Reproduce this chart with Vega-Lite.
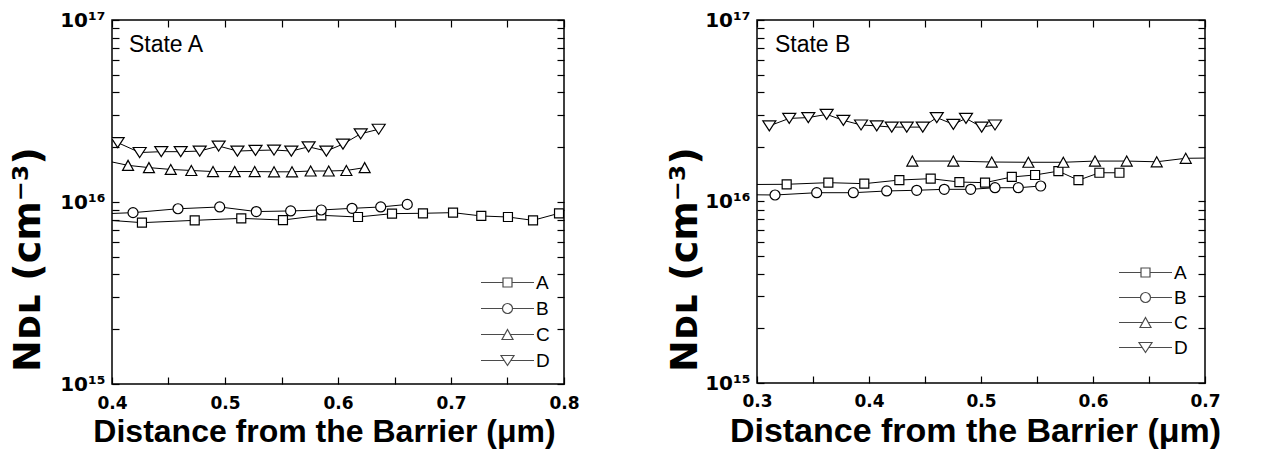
{
  "$schema": "https://vega.github.io/schema/vega-lite/v6.json",
  "background": "white",
  "padding": {"left": 8, "top": 9, "right": 5, "bottom": 5},
  "spacing": 85,
  "config": {
    "font": "Liberation Sans",
    "view": {"stroke": "black", "strokeWidth": 1.5},
    "axis": {
      "grid": false,
      "ticks": true,
      "domain": false,
      "offset": -7,
      "tickSize": 7,
      "tickColor": "black",
      "tickWidth": 1.2,
      "labelColor": "black",
      "titleColor": "black",
      "labelFont": "DejaVu Sans",
      "titleFont": "Liberation Sans",
      "labelFontWeight": "bold",
      "titleFontWeight": "bold",
      "labelFlush": false,
      "labelOverlap": false
    },
    "legend": {
      "orient": "none",
      "title": null,
      "labelFont": "Liberation Sans",
      "labelFontSize": 19,
      "labelColor": "black",
      "labelOffset": 19,
      "symbolSize": 100,
      "symbolStrokeWidth": 1.2,
      "symbolStrokeColor": "black",
      "symbolFillColor": "transparent",
      "rowPadding": 6,
      "padding": 0
    }
  },
  "datasets": {
    "left": [
      {"x": 0.39, "y": 8.0e15, "s": "A"},
      {"x": 0.4265, "y": 7.70e15, "s": "A"},
      {"x": 0.4732, "y": 7.93e15, "s": "A"},
      {"x": 0.5144, "y": 8.13e15, "s": "A"},
      {"x": 0.5513, "y": 7.96e15, "s": "A"},
      {"x": 0.5852, "y": 8.45e15, "s": "A"},
      {"x": 0.6177, "y": 8.27e15, "s": "A"},
      {"x": 0.6478, "y": 8.63e15, "s": "A"},
      {"x": 0.6752, "y": 8.67e15, "s": "A"},
      {"x": 0.7018, "y": 8.74e15, "s": "A"},
      {"x": 0.7268, "y": 8.38e15, "s": "A"},
      {"x": 0.7504, "y": 8.27e15, "s": "A"},
      {"x": 0.7726, "y": 7.93e15, "s": "A"},
      {"x": 0.7956, "y": 8.67e15, "s": "A"},
      {"x": 0.39, "y": 8.6e15, "s": "B"},
      {"x": 0.4186, "y": 8.74e15, "s": "B"},
      {"x": 0.4584, "y": 9.18e15, "s": "B"},
      {"x": 0.4953, "y": 9.39e15, "s": "B"},
      {"x": 0.5277, "y": 8.86e15, "s": "B"},
      {"x": 0.5581, "y": 8.93e15, "s": "B"},
      {"x": 0.5852, "y": 9.04e15, "s": "B"},
      {"x": 0.6124, "y": 9.23e15, "s": "B"},
      {"x": 0.6378, "y": 9.39e15, "s": "B"},
      {"x": 0.6613, "y": 9.70e15, "s": "B"},
      {"x": 0.39, "y": 1.71e16, "s": "C"},
      {"x": 0.4142, "y": 1.59e16, "s": "C"},
      {"x": 0.4327, "y": 1.545e16, "s": "C"},
      {"x": 0.452, "y": 1.51e16, "s": "C"},
      {"x": 0.4702, "y": 1.49e16, "s": "C"},
      {"x": 0.4894, "y": 1.47e16, "s": "C"},
      {"x": 0.5086, "y": 1.47e16, "s": "C"},
      {"x": 0.5263, "y": 1.47e16, "s": "C"},
      {"x": 0.5434, "y": 1.465e16, "s": "C"},
      {"x": 0.5593, "y": 1.465e16, "s": "C"},
      {"x": 0.5758, "y": 1.48e16, "s": "C"},
      {"x": 0.5918, "y": 1.48e16, "s": "C"},
      {"x": 0.6074, "y": 1.49e16, "s": "C"},
      {"x": 0.6236, "y": 1.545e16, "s": "C"},
      {"x": 0.405, "y": 2.12e16, "s": "D"},
      {"x": 0.4245, "y": 1.87e16, "s": "D"},
      {"x": 0.4436, "y": 1.89e16, "s": "D"},
      {"x": 0.4608, "y": 1.89e16, "s": "D"},
      {"x": 0.4776, "y": 1.905e16, "s": "D"},
      {"x": 0.4944, "y": 2.03e16, "s": "D"},
      {"x": 0.511, "y": 1.905e16, "s": "D"},
      {"x": 0.527, "y": 1.92e16, "s": "D"},
      {"x": 0.5434, "y": 1.93e16, "s": "D"},
      {"x": 0.5587, "y": 1.905e16, "s": "D"},
      {"x": 0.574, "y": 2.01e16, "s": "D"},
      {"x": 0.5897, "y": 1.905e16, "s": "D"},
      {"x": 0.6044, "y": 2.08e16, "s": "D"},
      {"x": 0.6201, "y": 2.37e16, "s": "D"},
      {"x": 0.636, "y": 2.51e16, "s": "D"}
    ],
    "right": [
      {"x": 0.29, "y": 1.24e16, "s": "A"},
      {"x": 0.3265, "y": 1.244e16, "s": "A"},
      {"x": 0.3637, "y": 1.27e16, "s": "A"},
      {"x": 0.3958, "y": 1.254e16, "s": "A"},
      {"x": 0.4271, "y": 1.313e16, "s": "A"},
      {"x": 0.4551, "y": 1.336e16, "s": "A"},
      {"x": 0.4807, "y": 1.28e16, "s": "A"},
      {"x": 0.5036, "y": 1.27e16, "s": "A"},
      {"x": 0.5275, "y": 1.365e16, "s": "A"},
      {"x": 0.5483, "y": 1.40e16, "s": "A"},
      {"x": 0.5691, "y": 1.47e16, "s": "A"},
      {"x": 0.587, "y": 1.31e16, "s": "A"},
      {"x": 0.6057, "y": 1.44e16, "s": "A"},
      {"x": 0.6236, "y": 1.44e16, "s": "A"},
      {"x": 0.29, "y": 1.09e16, "s": "B"},
      {"x": 0.3161, "y": 1.086e16, "s": "B"},
      {"x": 0.3533, "y": 1.118e16, "s": "B"},
      {"x": 0.386, "y": 1.118e16, "s": "B"},
      {"x": 0.4158, "y": 1.143e16, "s": "B"},
      {"x": 0.4426, "y": 1.153e16, "s": "B"},
      {"x": 0.4672, "y": 1.167e16, "s": "B"},
      {"x": 0.4908, "y": 1.167e16, "s": "B"},
      {"x": 0.5125, "y": 1.191e16, "s": "B"},
      {"x": 0.5333, "y": 1.191e16, "s": "B"},
      {"x": 0.5533, "y": 1.217e16, "s": "B"},
      {"x": 0.4387, "y": 1.67e16, "s": "C"},
      {"x": 0.4753, "y": 1.67e16, "s": "C"},
      {"x": 0.5096, "y": 1.65e16, "s": "C"},
      {"x": 0.5423, "y": 1.645e16, "s": "C"},
      {"x": 0.5735, "y": 1.645e16, "s": "C"},
      {"x": 0.6018, "y": 1.67e16, "s": "C"},
      {"x": 0.6301, "y": 1.67e16, "s": "C"},
      {"x": 0.6569, "y": 1.655e16, "s": "C"},
      {"x": 0.6828, "y": 1.73e16, "s": "C"},
      {"x": 0.72, "y": 1.74e16, "s": "C"},
      {"x": 0.311, "y": 2.61e16, "s": "D"},
      {"x": 0.3288, "y": 2.87e16, "s": "D"},
      {"x": 0.3458, "y": 2.90e16, "s": "D"},
      {"x": 0.3622, "y": 3.02e16, "s": "D"},
      {"x": 0.3771, "y": 2.80e16, "s": "D"},
      {"x": 0.3929, "y": 2.64e16, "s": "D"},
      {"x": 0.4069, "y": 2.61e16, "s": "D"},
      {"x": 0.4203, "y": 2.57e16, "s": "D"},
      {"x": 0.4337, "y": 2.57e16, "s": "D"},
      {"x": 0.448, "y": 2.57e16, "s": "D"},
      {"x": 0.4605, "y": 2.90e16, "s": "D"},
      {"x": 0.4753, "y": 2.66e16, "s": "D"},
      {"x": 0.4866, "y": 2.87e16, "s": "D"},
      {"x": 0.5006, "y": 2.57e16, "s": "D"},
      {"x": 0.5125, "y": 2.64e16, "s": "D"}
    ]
  },
  "hconcat": [
    {
      "width": 452,
      "height": 364,
      "data": {"name": "left"},
      "resolve": {"scale": {"shape": "independent"}, "axis": {"x": "independent", "y": "independent"}},
      "layer": [
        {
          "mark": {"type": "line", "color": "black", "strokeWidth": 1, "clip": true},
          "encoding": {
            "x": {"field": "x", "type": "quantitative",
              "scale": {"domain": [0.4, 0.8], "nice": false, "zero": false},
              "axis": {"orient": "bottom", "values": [0.4, 0.45, 0.5, 0.55, 0.6, 0.65, 0.7, 0.75, 0.8],
                "labelExpr": "abs(datum.value*10 - round(datum.value*10)) < 0.001 ? format(datum.value, '.1f') : ''",
                "labelPadding": 11, "labelFontSize": 17,
                "title": "Distance from the Barrier (μm)", "titleFontSize": 32, "titlePadding": 5, "titleX": 212}},
            "y": {"field": "y", "type": "quantitative",
              "scale": {"type": "log", "domain": [1e15, 1e17], "nice": false},
              "axis": {"orient": "left",
                "values": [1e15, 2e15, 3e15, 4e15, 5e15, 6e15, 7e15, 8e15, 9e15, 1e16, 2e16, 3e16, 4e16, 5e16, 6e16, 7e16, 8e16, 9e16, 1e17],
                "labelExpr": "datum.value == 1e15 ? '10¹⁵' : datum.value == 1e16 ? '10¹⁶' : datum.value == 1e17 ? '10¹⁷' : ''",
                "labelPadding": 7, "labelFontSize": 20,
                "title": "Nᴅʟ (cm⁻³)", "titleFont": "DejaVu Sans", "titleFontSize": 38, "titlePadding": 12, "titleY": 239}},
            "detail": {"field": "s"}
          }
        },
        {
          "mark": {"type": "point", "filled": true, "fill": "white", "stroke": "black", "strokeWidth": 1.2, "size": 100, "opacity": 1, "clip": true},
          "encoding": {
            "x": {"field": "x", "type": "quantitative",
              "axis": {"orient": "top", "values": [0.4, 0.45, 0.5, 0.55, 0.6, 0.65, 0.7, 0.75, 0.8], "labels": false, "title": null}},
            "y": {"field": "y", "type": "quantitative",
              "axis": {"orient": "right",
                "values": [1e15, 2e15, 3e15, 4e15, 5e15, 6e15, 7e15, 8e15, 9e15, 1e16, 2e16, 3e16, 4e16, 5e16, 6e16, 7e16, 8e16, 9e16, 1e17],
                "labels": false, "title": null}},
            "shape": {"field": "s", "type": "nominal",
              "scale": {"domain": ["A", "B", "C", "D"],
                "range": ["M-0.9,-0.9H0.9V0.9H-0.9Z", "M1,0A1,1,0,1,1,-1,0A1,1,0,1,1,1,0Z", "M0,-1L1.1,1H-1.1Z", "M0,1L1.3,-1H-1.3Z"]},
              "legend": null}
          }
        },
        {
          "transform": [{"filter": "false"}],
          "mark": {"type": "point", "filled": false, "color": "black", "strokeWidth": 1.2, "size": 100},
          "encoding": {
            "x": {"field": "x", "type": "quantitative", "axis": null},
            "y": {"field": "y", "type": "quantitative", "axis": null},
            "shape": {"field": "s", "type": "nominal",
              "scale": {"domain": ["A", "B", "C", "D"],
                "range": ["M-5.3,0H-0.9M0.9,0H5.3M-0.9,-0.9H0.9V0.9H-0.9Z", "M-5.3,0H-1M1,0H5.3M1,0A1,1,0,1,1,-1,0A1,1,0,1,1,1,0Z", "M-5.3,0H-0.55M0.55,0H5.3M0,-1L1.1,1H-1.1Z", "M-5.3,0H-0.65M0.65,0H5.3M0,1L1.3,-1H-1.3Z"]},
              "legend": {"orient": "none", "legendX": 386, "legendY": 253, "rowPadding": 6}}
          }
        },
        {
          "data": {"values": [{"label": "State A"}]},
          "mark": {"type": "text", "align": "left", "baseline": "middle", "fontSize": 23, "font": "Liberation Sans", "color": "black"},
          "encoding": {
            "x": {"datum": 0.415, "type": "quantitative", "axis": null},
            "y": {"datum": 7.3e16, "type": "quantitative", "axis": null},
            "text": {"field": "label"}
          }
        }
      ]
    },
    {
      "width": 448,
      "height": 363,
      "data": {"name": "right"},
      "resolve": {"scale": {"shape": "independent"}, "axis": {"x": "independent", "y": "independent"}},
      "layer": [
        {
          "mark": {"type": "line", "color": "black", "strokeWidth": 1, "clip": true},
          "encoding": {
            "x": {"field": "x", "type": "quantitative",
              "scale": {"domain": [0.3, 0.7], "nice": false, "zero": false},
              "axis": {"orient": "bottom", "values": [0.3, 0.35, 0.4, 0.45, 0.5, 0.55, 0.6, 0.65, 0.7],
                "labelExpr": "abs(datum.value*10 - round(datum.value*10)) < 0.001 ? format(datum.value, '.1f') : ''",
                "labelPadding": 10, "labelFontSize": 17,
                "title": "Distance from the Barrier (μm)", "titleFontSize": 34, "titlePadding": 5, "titleX": 218}},
            "y": {"field": "y", "type": "quantitative",
              "scale": {"type": "log", "domain": [1e15, 1e17], "nice": false},
              "axis": {"orient": "left",
                "values": [1e15, 2e15, 3e15, 4e15, 5e15, 6e15, 7e15, 8e15, 9e15, 1e16, 2e16, 3e16, 4e16, 5e16, 6e16, 7e16, 8e16, 9e16, 1e17],
                "labelExpr": "datum.value == 1e15 ? '10¹⁵' : datum.value == 1e16 ? '10¹⁶' : datum.value == 1e17 ? '10¹⁷' : ''",
                "labelPadding": 7, "labelFontSize": 20,
                "title": "Nᴅʟ (cm⁻³)", "titleFont": "DejaVu Sans", "titleFontSize": 38, "titlePadding": 0, "titleY": 239}},
            "detail": {"field": "s"}
          }
        },
        {
          "mark": {"type": "point", "filled": true, "fill": "white", "stroke": "black", "strokeWidth": 1.2, "size": 100, "opacity": 1, "clip": true},
          "encoding": {
            "x": {"field": "x", "type": "quantitative",
              "axis": {"orient": "top", "values": [0.3, 0.35, 0.4, 0.45, 0.5, 0.55, 0.6, 0.65, 0.7], "labels": false, "title": null}},
            "y": {"field": "y", "type": "quantitative",
              "axis": {"orient": "right",
                "values": [1e15, 2e15, 3e15, 4e15, 5e15, 6e15, 7e15, 8e15, 9e15, 1e16, 2e16, 3e16, 4e16, 5e16, 6e16, 7e16, 8e16, 9e16, 1e17],
                "labels": false, "title": null}},
            "shape": {"field": "s", "type": "nominal",
              "scale": {"domain": ["A", "B", "C", "D"],
                "range": ["M-0.9,-0.9H0.9V0.9H-0.9Z", "M1,0A1,1,0,1,1,-1,0A1,1,0,1,1,1,0Z", "M0,-1L1.1,1H-1.1Z", "M0,1L1.3,-1H-1.3Z"]},
              "legend": null}
          }
        },
        {
          "transform": [{"filter": "false"}],
          "mark": {"type": "point", "filled": false, "color": "black", "strokeWidth": 1.2, "size": 100},
          "encoding": {
            "x": {"field": "x", "type": "quantitative", "axis": null},
            "y": {"field": "y", "type": "quantitative", "axis": null},
            "shape": {"field": "s", "type": "nominal",
              "scale": {"domain": ["A", "B", "C", "D"],
                "range": ["M-5.3,0H-0.9M0.9,0H5.3M-0.9,-0.9H0.9V0.9H-0.9Z", "M-5.3,0H-1M1,0H5.3M1,0A1,1,0,1,1,-1,0A1,1,0,1,1,1,0Z", "M-5.3,0H-0.55M0.55,0H5.3M0,-1L1.1,1H-1.1Z", "M-5.3,0H-0.65M0.65,0H5.3M0,1L1.3,-1H-1.3Z"]},
              "legend": {"orient": "none", "legendX": 379, "legendY": 243, "rowPadding": 5}}
          }
        },
        {
          "data": {"values": [{"label": "State B"}]},
          "mark": {"type": "text", "align": "left", "baseline": "middle", "fontSize": 23, "font": "Liberation Sans", "color": "black"},
          "encoding": {
            "x": {"datum": 0.316, "type": "quantitative", "axis": null},
            "y": {"datum": 7.3e16, "type": "quantitative", "axis": null},
            "text": {"field": "label"}
          }
        }
      ]
    }
  ]
}
